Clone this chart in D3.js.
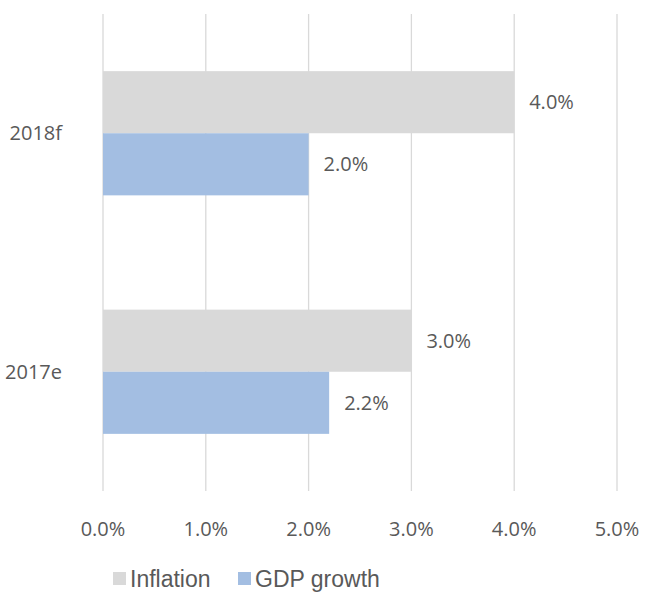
<!DOCTYPE html>
<html>
<head>
<meta charset="utf-8">
<script src="https://cdn.jsdelivr.net/npm/d3@7"></script>
<style>
  body { margin: 0; background: #fff; }
  svg text { font-family: "Open Sans", "Noto Sans", sans-serif; fill: #595959; }
</style>
</head>
<body>
<svg id="chart" width="645" height="593"></svg>
<script>
// data
const categories = ['2018f', '2017e']
const seriesNames = ['Inflation', 'GDP growth']
const inflation = [4.0, 3.0]
const gdpGrowth = [2.0, 2.2]
const xTicks = [0, 1, 2, 3, 4, 5]
const colors = ['#d9d9d9', '#a3bee2']

const svg = d3.select('#chart')
const plotLeft = 103, plotRight = 617, plotTop = 14, plotBottom = 491

const x = d3.scaleLinear().domain([0, 5]).range([plotLeft, plotRight])
const y = d3.scaleBand().domain(categories).range([plotTop, plotBottom]).paddingInner(0).paddingOuter(0)
const inner = d3.scaleBand().domain(seriesNames).range([0, y.bandwidth()]).paddingInner(0).paddingOuter(0.92)

// gridlines
svg.append('g')
  .selectAll('line')
  .data(xTicks)
  .join('line')
  .attr('x1', d => x(d)).attr('x2', d => x(d))
  .attr('y1', plotTop).attr('y2', plotBottom)
  .attr('stroke', '#d9d9d9').attr('stroke-width', 1.3)

// tick labels
svg.append('g')
  .selectAll('text')
  .data(xTicks)
  .join('text')
  .attr('x', d => x(d)).attr('y', 536)
  .attr('text-anchor', 'middle')
  .style('font-size', '20px')
  .text(d => d.toFixed(1) + '%')

// category labels
svg.append('g')
  .selectAll('text')
  .data(categories)
  .join('text')
  .attr('x', 62).attr('y', d => y(d) + y.bandwidth() / 2)
  .attr('dy', '0.35em')
  .attr('text-anchor', 'end')
  .style('font-size', '20px')
  .text(d => d)

const rows = []
categories.forEach((c, i) => {
  rows.push({ cat: c, s: seriesNames[0], v: inflation[i], col: colors[0] })
  rows.push({ cat: c, s: seriesNames[1], v: gdpGrowth[i], col: colors[1] })
})

// bars
svg.append('g')
  .selectAll('rect')
  .data(rows)
  .join('rect')
  .attr('x', x(0))
  .attr('y', d => y(d.cat) + inner(d.s))
  .attr('width', d => x(d.v) - x(0))
  .attr('height', inner.bandwidth())
  .attr('fill', d => d.col)

// value labels
svg.append('g')
  .selectAll('text')
  .data(rows)
  .join('text')
  .attr('x', d => x(d.v) + 15)
  .attr('y', d => y(d.cat) + inner(d.s) + inner.bandwidth() / 2)
  .attr('dy', '0.35em')
  .style('font-size', '20px')
  .text(d => d.v.toFixed(1) + '%')

// legend
const legend = svg.append('g')
const legX = [113, 238]
seriesNames.forEach((s, i) => {
  legend.append('rect')
    .attr('x', legX[i]).attr('y', 572).attr('width', 13).attr('height', 13)
    .attr('fill', colors[i])
  legend.append('text')
    .attr('x', legX[i] + 17).attr('y', 587)
    .style('font-family', '"Liberation Sans", Arial, sans-serif')
    .style('font-size', '23px')
    .text(s)
})
</script>
</body>
</html>
